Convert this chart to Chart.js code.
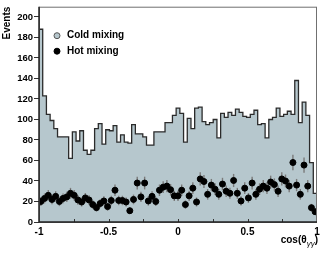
<!DOCTYPE html>
<html>
<head>
<meta charset="utf-8">
<script src="https://cdn.jsdelivr.net/npm/chart.js@4/dist/chart.umd.min.js"></script>
<style>
  html, body { margin: 0; padding: 0; background: #fff; }
  #wrap { width: 325px; height: 253px; }
</style>
</head>
<body>
<div id="wrap"><canvas id="cosChart" width="325" height="253"></canvas></div>
<script>
// cos(theta_gamma gamma) distribution, 75 bins between -1 and 1
const binLow = -1;
const binHigh = 1;

// histogram contents
const coldMixing = [
  188, 123, 105, 99, 91, 83, 83, 83, 62, 88,
  79, 89, 70, 66, 70, 91, 96, 76, 90, 89,
  94, 78, 85, 78, 77, 95, 86, 86, 83, 75,
  75, 88, 88, 88, 97, 97, 104, 111, 106, 78,
  101, 91, 111, 112, 98, 95, 97, 100, 82, 106,
  102, 107, 104, 110, 107, 103, 102, 105, 109, 95,
  96, 82, 100, 102, 111, 103, 105, 108, 105, 138,
  97, 117, 104, 58, 28
];

const hotMixing = [
  20, 23, 26, 22, 25, 20, 23, 24.5, 28, 26,
  21.5, 19.5, 23.5, 21.5, 17, 14, 18, 20.5, 15, 21,
  31, 21, 21, 19.5, 11, 22, 38, 24.5, 38, 20.5,
  25, 20, 31, 34, 35, 31.5, 25.5, 25.5, 31, 17,
  25.5, 33, 19.5, 42, 39.5, 27, 36, 32, 27, 37,
  30, 28, 40.5, 28, 20.5, 33, 23.5, 38, 27, 32,
  35, 33, 39, 36.5, 30, 42, 40, 35, 58, 36,
  27, 55.5, 35, 14, 10
];

const hotErrors = [
  4.5, 4.8, 5.1, 4.7, 5, 4.5, 4.8, 4.9, 5.3, 5.1,
  4.6, 4.4, 4.8, 4.6, 4.1, 3.7, 4.2, 4.5, 3.9, 4.6,
  5.6, 4.6, 4.6, 4.4, 3.3, 4.7, 6.2, 4.9, 6.2, 4.5,
  5, 4.5, 5.6, 5.8, 5.9, 5.6, 5, 5, 5.6, 4.1,
  5, 5.7, 4.4, 6.5, 6.3, 5.2, 6, 5.7, 5.2, 6.1,
  5.5, 5.3, 6.4, 5.3, 4.5, 5.7, 4.8, 6.2, 5.2, 5.7,
  5.9, 5.7, 6.2, 6, 5.5, 6.5, 6.3, 5.9, 7.6, 6,
  5.2, 7.5, 5.9, 3.7, 3.2
];

const yTicks = [0, 20, 40, 60, 80, 100, 120, 140, 160, 180, 200];
const xTicks = [-1, -0.5, 0, 0.5, 1];
const xMinorTicks = [-0.75, -0.5, -0.25, 0, 0.25, 0.5, 0.75];

const fillBlue = "#b6c7cd";
const nBins = coldMixing.length;
const binWidth = (binHigh - binLow) / nBins;

// step outline: one point on each left bin edge, plus the closing edge
const coldSteps = coldMixing.map((v, i) => ({ x: binLow + i * binWidth, y: v }));
coldSteps.push({ x: binHigh, y: coldMixing[nBins - 1] });

const hotPoints = hotMixing.map((v, i) => ({ x: binLow + (i + 0.5) * binWidth, y: v }));

// error bars are drawn under the black dots
const errorBars = {
  id: "errorBars",
  beforeDatasetDraw(chart, args) {
    if (args.index !== 1) return;
    const ctx = chart.ctx;
    const xs = chart.scales.x, ys = chart.scales.y;
    ctx.save();
    ctx.strokeStyle = "#7a7a7a";
    ctx.lineWidth = 1.4;
    hotMixing.forEach((v, i) => {
      const px = xs.getPixelForValue(hotPoints[i].x);
      ctx.beginPath();
      ctx.moveTo(px, ys.getPixelForValue(v - hotErrors[i]));
      ctx.lineTo(px, ys.getPixelForValue(v + hotErrors[i]));
      ctx.stroke();
    });
    ctx.restore();
  }
};

// frame, inside x ticks, legend and the x title with its subscript
const frameAndText = {
  id: "frameAndText",
  afterDraw(chart) {
    const ctx = chart.ctx;
    const a = chart.chartArea;
    const xs = chart.scales.x;
    ctx.save();

    ctx.strokeStyle = "#707070";
    ctx.lineWidth = 1;
    ctx.strokeRect(a.left + 0.5, a.top + 0.5, a.right - a.left - 1, a.bottom - a.top);

    ctx.strokeStyle = "#333";
    xMinorTicks.forEach(v => {
      const px = Math.round(xs.getPixelForValue(v)) + 0.5;
      ctx.beginPath();
      ctx.moveTo(px, a.bottom);
      ctx.lineTo(px, a.bottom - 3);
      ctx.stroke();
    });

    ctx.strokeStyle = "#222";
    ctx.lineWidth = 1.5;
    ctx.beginPath();
    ctx.moveTo(a.left, a.top);
    ctx.lineTo(a.left, a.bottom);
    ctx.lineTo(a.right, a.bottom);
    ctx.stroke();

    // legend
    const ds = chart.data.datasets;
    const items = [ds[0], ds[1]];
    ctx.font = "bold 10px 'Liberation Sans', Arial, sans-serif";
    ctx.textBaseline = "middle";
    items.forEach((d, i) => {
      const cy = a.top + 29 + i * 15.5;
      const cx = a.left + 18;
      ctx.beginPath();
      ctx.arc(cx, cy, 3, 0, Math.PI * 2);
      ctx.fillStyle = i === 0 ? fillBlue : "#000";
      ctx.fill();
      ctx.lineWidth = 1;
      ctx.strokeStyle = i === 0 ? "#555" : "#000";
      ctx.stroke();
      ctx.fillStyle = "#000";
      ctx.fillText(d.label, a.left + 28, cy);
    });

    // x title  cos(theta_{gamma gamma})
    const baseFont = "bold 10px 'Liberation Sans', Arial, sans-serif";
    const subFont = "italic 8px 'Liberation Sans', Arial, sans-serif";
    const parts = ["cos(\u03b8", "\u03b3\u03b3", ")"];
    ctx.font = baseFont;
    const w0 = ctx.measureText(parts[0]).width;
    const w2 = ctx.measureText(parts[2]).width;
    ctx.font = subFont;
    const w1 = ctx.measureText(parts[1]).width;
    let tx = a.right + 1 - (w0 + w1 + w2);
    const ty = 243;
    ctx.textBaseline = "alphabetic";
    ctx.font = baseFont;
    ctx.fillText(parts[0], tx, ty);
    tx += w0;
    ctx.font = subFont;
    ctx.fillText(parts[1], tx, ty + 3);
    tx += w1;
    ctx.font = baseFont;
    ctx.fillText(parts[2], tx, ty);

    ctx.restore();
  }
};

const ctx = document.getElementById("cosChart").getContext("2d");
new Chart(ctx, {
  type: "scatter",
  data: {
    datasets: [
      {
        type: "line",
        label: "Cold mixing",
        data: coldSteps,
        stepped: "before",
        fill: "origin",
        backgroundColor: fillBlue,
        borderColor: "#2b2b2b",
        borderWidth: 1.3,
        pointRadius: 0,
        order: 2
      },
      {
        type: "scatter",
        label: "Hot mixing",
        data: hotPoints,
        backgroundColor: "#000",
        borderColor: "#000",
        pointRadius: 3,
        order: 1
      }
    ]
  },
  options: {
    responsive: false,
    animation: false,
    devicePixelRatio: 1,
    layout: { padding: { top: 4, right: 8, left: 0, bottom: 0 } },
    plugins: {
      legend: { display: false },
      tooltip: { enabled: false }
    },
    scales: {
      x: {
        type: "linear",
        min: binLow,
        max: binHigh,
        afterBuildTicks: s => { s.ticks = xTicks.map(v => ({ value: v })); },
        afterFit: s => { s.height = 31; },
        grid: { drawOnChartArea: false, drawTicks: false },
        border: { display: false },
        ticks: {
          padding: 4,
          color: "#000",
          maxRotation: 0,
          font: { family: "'Liberation Sans', Arial, sans-serif", size: 10, weight: "bold" },
          callback: v => String(v)
        }
      },
      y: {
        min: 0,
        max: 210,
        afterBuildTicks: s => { s.ticks = yTicks.map(v => ({ value: v })); },
        afterFit: s => { s.width = 39; },
        grid: { drawOnChartArea: false, tickLength: 5, tickColor: "#333" },
        border: { display: false },
        title: {
          display: true,
          text: "Events",
          align: "end",
          color: "#000",
          padding: { top: 1, bottom: 0 },
          font: { family: "'Liberation Sans', Arial, sans-serif", size: 10, weight: "bold" }
        },
        ticks: {
          padding: 1,
          color: "#000",
          font: { family: "'Liberation Sans', Arial, sans-serif", size: 9.5, weight: "bold" }
        }
      }
    }
  },
  plugins: [errorBars, frameAndText]
});
</script>
</body>
</html>
